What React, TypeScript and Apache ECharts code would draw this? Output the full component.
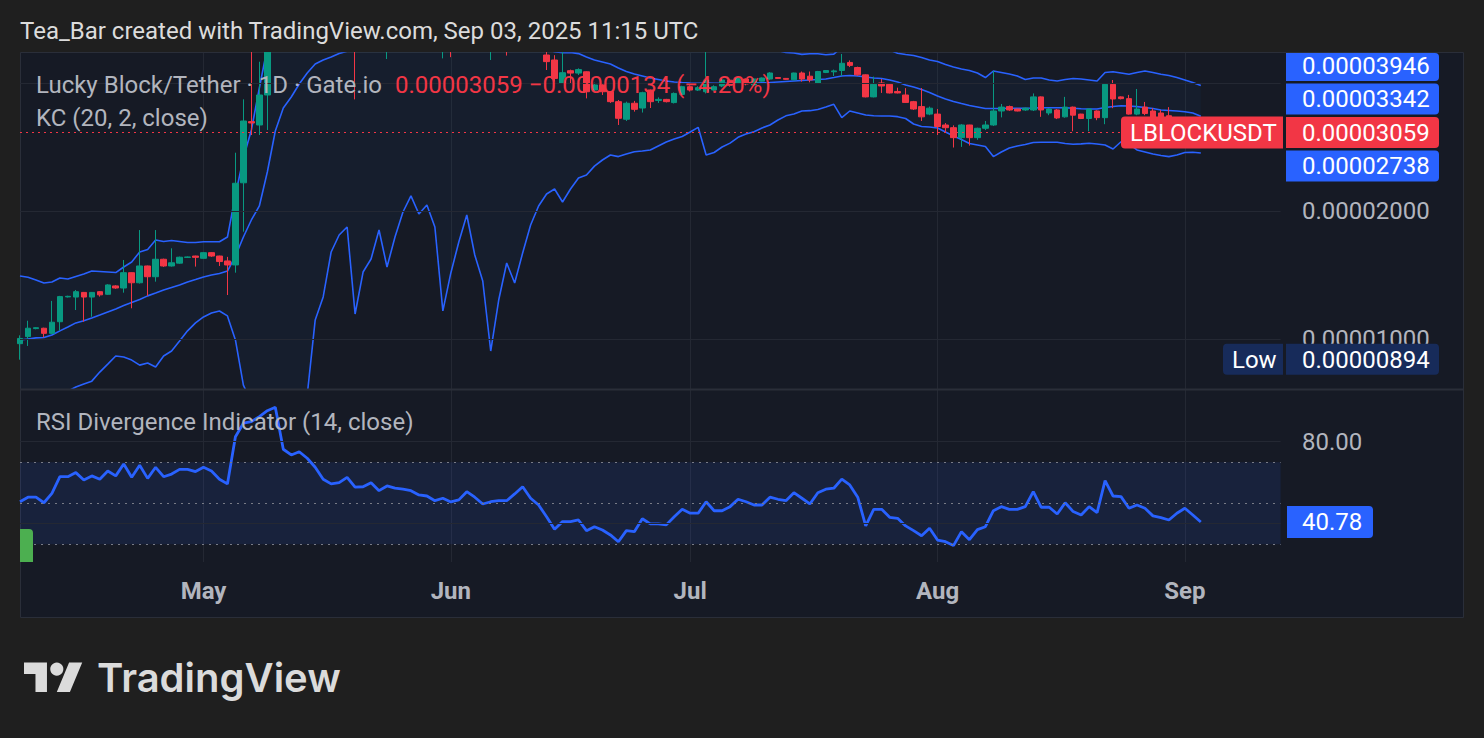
import React, { useEffect, useRef } from "react";
import * as echarts from "echarts";

// ---------------- DATA (prices in units of 1e-5 USDT) ----------------
const PRICE_UNIT = 1e-5;
const FIRST_DAY_UTC = Date.UTC(2025, 3, 8); // Apr 8, 2025 (first daily bar, partly cut at the left edge)
const CATEGORY_COUNT = 159; // daily slots up to the right edge of the pane
const MONTH_NAMES = ["Jan", "Feb", "Mar", "Apr", "May", "Jun", "Jul", "Aug", "Sep", "Oct", "Nov", "Dec"];

const candleOpen = [
  0.975, 1.013, 1.058, 1.060, 1.031, 1.098, 1.256, 1.255, 1.287, 1.255,
  1.292, 1.274, 1.333, 1.318, 1.432, 1.356, 1.485, 1.401, 1.540, 1.485,
  1.508, 1.556, 1.567, 1.548, 1.596, 1.567, 1.526, 1.493, 2.330, 3.245,
  3.186, 3.748, 5.600, 7.400, 5.900, 5.600, 6.000, 5.700, 5.300, 5.000,
  4.950, 5.100, 5.300, 4.950, 5.000, 5.150, 4.950, 5.050, 5.000, 4.980,
  4.950, 4.880, 4.860, 4.800, 4.840, 4.780, 4.820, 4.980, 4.900, 4.800,
  4.850, 4.880, 4.820, 4.880, 5.000, 4.850, 4.654, 4.530, 3.994, 4.275,
  4.220, 4.250, 3.851, 3.957, 3.815, 3.615, 3.287, 3.584, 3.493, 3.851,
  3.640, 3.660, 3.597, 3.760, 3.920, 3.850, 3.815, 3.851, 3.935, 4.060,
  4.000, 4.087, 3.957, 4.040, 4.087, 4.120, 4.100, 4.070, 4.222, 4.150,
  3.994, 4.235, 4.250, 4.280, 4.470, 4.350, 4.180, 3.710, 4.000, 3.970,
  3.820, 3.748, 3.615, 3.520, 3.380, 3.380, 3.186, 3.140, 2.975, 3.186,
  2.975, 3.130, 3.186, 3.437, 3.520, 3.474, 3.456, 3.456, 3.710, 3.400,
  3.456, 3.330, 3.510, 3.380, 3.300, 3.437, 3.315, 3.970, 3.710, 3.675,
  3.380, 3.510, 3.437, 3.400, 3.350, 3.250, 3.220, 3.180, 3.193,
];
const candleClose = [
  1.003, 1.060, 1.063, 1.031, 1.095, 1.258, 1.260, 1.292, 1.255, 1.287,
  1.270, 1.340, 1.318, 1.432, 1.356, 1.485, 1.401, 1.540, 1.485, 1.511,
  1.557, 1.559, 1.556, 1.596, 1.567, 1.521, 1.493, 2.324, 3.256, 3.221,
  3.748, 5.600, 7.400, 5.900, 5.600, 6.000, 5.700, 5.300, 5.000, 4.950,
  5.100, 5.300, 4.950, 5.000, 5.150, 4.950, 5.050, 5.000, 4.980, 4.950,
  4.880, 4.860, 4.800, 4.840, 4.780, 4.820, 4.980, 4.900, 4.800, 4.850,
  4.880, 4.820, 4.880, 5.000, 4.850, 4.750, 4.490, 4.100, 4.229, 4.220,
  4.300, 3.815, 3.957, 3.815, 3.615, 3.304, 3.584, 3.468, 3.795, 3.615,
  3.660, 3.615, 3.780, 3.920, 3.850, 3.900, 4.065, 3.920, 4.065, 3.950,
  4.109, 3.978, 4.087, 4.109, 4.222, 4.100, 4.080, 4.222, 4.087, 4.065,
  4.256, 4.278, 4.270, 4.450, 4.400, 4.180, 3.710, 3.970, 3.935, 3.790,
  3.790, 3.600, 3.474, 3.330, 3.490, 3.160, 3.140, 2.975, 3.186, 2.975,
  3.130, 3.186, 3.437, 3.510, 3.456, 3.437, 3.490, 3.710, 3.456, 3.474,
  3.310, 3.510, 3.360, 3.300, 3.474, 3.315, 3.970, 3.668, 3.675, 3.380,
  3.474, 3.390, 3.310, 3.270, 3.250, 3.220, 3.180, 3.193, 3.059,
];
const candleLow = [
  0.894, 0.963, 1.054, 1.009, 1.025, 1.046, 1.252, 1.170, 1.098, 1.128,
  1.258, 1.270, 1.312, 1.285, 1.181, 1.350, 1.263, 1.364, 1.478, 1.480,
  1.503, 1.552, 1.480, 1.545, 1.560, 1.485, 1.269, 1.432, 1.788, 3.018,
  3.018, 3.101, 5.400, 5.500, 5.200, 5.300, 5.400, 5.000, 4.850, 4.800,
  4.850, 4.950, 3.660, 4.800, 4.900, 4.850, 4.554, 4.850, 4.800, 4.780,
  4.780, 4.770, 4.740, 4.570, 4.600, 4.730, 4.760, 4.800, 4.740, 4.530,
  4.780, 4.640, 4.740, 4.800, 4.760, 4.720, 4.291, 4.030, 3.980, 3.994,
  4.177, 3.680, 3.840, 3.748, 3.590, 3.186, 3.256, 3.425, 3.408, 3.493,
  3.590, 3.600, 3.580, 3.740, 3.820, 3.830, 3.780, 3.830, 3.910, 3.920,
  3.980, 3.950, 3.940, 4.030, 4.070, 4.090, 4.070, 4.060, 4.030, 4.014,
  3.980, 4.220, 4.154, 4.154, 4.360, 4.160, 3.700, 3.700, 3.790, 3.780,
  3.780, 3.590, 3.456, 3.256, 3.360, 3.018, 3.070, 2.820, 2.830, 2.850,
  2.940, 3.100, 3.170, 3.320, 3.440, 3.430, 3.440, 3.437, 3.330, 3.360,
  3.290, 3.315, 3.080, 3.290, 3.080, 3.270, 3.200, 3.490, 3.660, 3.370,
  3.360, 3.360, 3.260, 3.220, 3.200, 3.150, 3.120, 3.100, 3.000,
];
const candleHigh = [
  1.020, 1.104, 1.066, 1.063, 1.229, 1.263, 1.264, 1.304, 1.290, 1.290,
  1.296, 1.345, 1.338, 1.534, 1.435, 1.804, 1.488, 1.804, 1.545, 1.634,
  1.562, 1.563, 1.570, 1.600, 1.600, 1.570, 1.560, 2.742, 3.661, 5.300,
  4.488, 6.000, 8.200, 7.900, 6.300, 6.400, 6.300, 5.900, 5.500, 5.300,
  5.400, 5.600, 5.400, 5.200, 5.300, 5.200, 5.200, 5.200, 5.150, 5.100,
  5.050, 5.000, 4.950, 4.950, 4.920, 4.950, 5.100, 5.050, 4.950, 4.950,
  5.000, 4.950, 5.000, 5.100, 5.050, 4.900, 4.850, 4.650, 4.900, 4.300,
  4.330, 4.260, 4.006, 3.970, 3.830, 3.648, 3.615, 3.630, 3.815, 3.860,
  3.700, 3.670, 3.800, 3.940, 3.950, 3.930, 4.800, 3.950, 4.080, 4.080,
  4.130, 4.100, 4.100, 4.120, 4.240, 4.130, 4.110, 4.230, 4.256, 4.256,
  4.270, 4.290, 4.300, 4.680, 4.520, 4.370, 4.190, 4.140, 4.087, 3.990,
  3.900, 3.890, 3.630, 3.890, 3.520, 3.474, 3.220, 3.180, 3.200, 3.190,
  3.140, 3.256, 4.268, 3.570, 3.540, 3.480, 3.500, 3.780, 3.720, 3.490,
  3.474, 3.710, 3.520, 3.385, 3.480, 3.450, 3.990, 4.065, 3.720, 3.750,
  3.872, 3.610, 3.490, 3.456, 3.510, 3.300, 3.270, 3.260, 3.220,
];

const kcUpper = [
  1.407, 1.397, 1.377, 1.354, 1.362, 1.391, 1.384, 1.403, 1.422, 1.445,
  1.441, 1.437, 1.433, 1.477, 1.517, 1.602, 1.623, 1.709, 1.695, 1.704,
  1.695, 1.686, 1.686, 1.693, 1.693, 1.693, 1.737, 2.181, 2.665, 3.101,
  3.893, 4.850, 6.000, 6.600, 7.000, 7.350, 7.706, 7.757, 7.804, 7.606,
  7.624, 7.666, 8.415, 8.163, 8.118, 7.896, 8.263, 8.043, 7.811, 7.650,
  7.852, 7.754, 7.966, 8.616, 8.330, 8.049, 7.803, 8.184, 8.371, 8.783,
  8.485, 8.191, 8.346, 8.127, 7.846, 7.605, 7.387, 7.227, 7.320, 7.187,
  6.989, 6.778, 6.510, 6.326, 6.158, 5.991, 5.789, 5.641, 5.540, 5.435,
  5.308, 5.180, 5.089, 5.026, 4.933, 4.842, 5.292, 5.243, 5.160, 5.100,
  5.008, 4.965, 4.928, 4.877, 4.834, 4.768, 4.716, 4.704, 4.671, 4.687,
  4.687, 4.661, 4.677, 4.850, 4.890, 4.900, 4.900, 4.860, 4.840, 4.780,
  4.700, 4.666, 4.642, 4.590, 4.530, 4.493, 4.420, 4.362, 4.315, 4.280,
  4.222, 4.120, 4.268, 4.234, 4.199, 4.154, 4.076, 4.109, 4.109, 4.065,
  4.043, 4.076, 4.098, 4.087, 4.065, 4.043, 4.234, 4.252, 4.222, 4.193,
  4.234, 4.268, 4.234, 4.193, 4.165, 4.120, 4.065, 4.010, 3.946,
];
const kcMiddle = [
  0.995, 1.000, 1.006, 1.008, 1.022, 1.045, 1.067, 1.091, 1.104, 1.121,
  1.139, 1.158, 1.177, 1.199, 1.218, 1.239, 1.263, 1.283, 1.304, 1.322,
  1.340, 1.362, 1.380, 1.399, 1.414, 1.426, 1.445, 1.567, 1.737, 1.905,
  2.055, 2.470, 3.084, 3.493, 3.708, 3.978, 4.222, 4.433, 4.530, 4.604,
  4.690, 4.750, 4.780, 4.800, 4.830, 4.850, 4.870, 4.890, 4.900, 4.910,
  4.910, 4.910, 4.900, 4.890, 4.880, 4.870, 4.880, 4.880, 4.870, 4.860,
  4.860, 4.850, 4.850, 4.860, 4.850, 4.830, 4.790, 4.740, 4.710, 4.720,
  4.690, 4.604, 4.530, 4.481, 4.433, 4.338, 4.256, 4.199, 4.154, 4.109,
  4.076, 4.043, 4.021, 4.010, 4.000, 3.994, 4.000, 3.994, 3.994, 3.994,
  3.994, 4.000, 4.000, 4.006, 4.010, 4.021, 4.032, 4.043, 4.054, 4.065,
  4.076, 4.087, 4.120, 4.154, 4.165, 4.154, 4.132, 4.109, 4.098, 4.065,
  4.021, 3.957, 3.914, 3.861, 3.799, 3.728, 3.668, 3.619, 3.579, 3.541,
  3.513, 3.484, 3.484, 3.484, 3.488, 3.488, 3.488, 3.493, 3.499, 3.499,
  3.499, 3.499, 3.488, 3.480, 3.474, 3.474, 3.503, 3.522, 3.537, 3.532,
  3.519, 3.503, 3.484, 3.456, 3.447, 3.437, 3.424, 3.400, 3.342,
];
const kcLower = [
  0.738, 0.734, 0.730, 0.726, 0.730, 0.738, 0.754, 0.771, 0.784, 0.796,
  0.836, 0.873, 0.912, 0.907, 0.892, 0.868, 0.878, 0.859, 0.912, 0.937,
  0.989, 1.045, 1.091, 1.127, 1.151, 1.164, 1.133, 0.995, 0.779, 0.710,
  0.220, 0.090, 0.170, 0.390, 0.420, 0.610, 0.738, 1.109, 1.256, 1.602,
  1.756, 1.834, 1.145, 1.437, 1.542, 1.804, 1.477, 1.737, 1.989, 2.170,
  1.968, 2.066, 1.834, 1.164, 1.430, 1.691, 1.957, 1.576, 1.369, 0.937,
  1.235, 1.509, 1.354, 1.593, 1.854, 2.055, 2.193, 2.253, 2.100, 2.253,
  2.391, 2.430, 2.550, 2.636, 2.708, 2.685, 2.723, 2.757, 2.768, 2.783,
  2.844, 2.906, 2.953, 2.994, 3.067, 3.146, 2.708, 2.745, 2.828, 2.888,
  2.980, 3.035, 3.072, 3.135, 3.186, 3.274, 3.348, 3.382, 3.437, 3.443,
  3.465, 3.513, 3.563, 3.316, 3.437, 3.400, 3.363, 3.350, 3.345, 3.345,
  3.333, 3.300, 3.203, 3.160, 3.152, 3.135, 3.067, 3.002, 2.945, 2.882,
  2.859, 2.836, 2.685, 2.753, 2.813, 2.844, 2.867, 2.898, 2.902, 2.902,
  2.902, 2.882, 2.870, 2.877, 2.885, 2.874, 2.859, 2.798, 2.910, 2.874,
  2.783, 2.753, 2.723, 2.701, 2.685, 2.708, 2.745, 2.748, 2.738,
];

const rsiValues = [
  50.7, 52.9, 52.9, 50.2, 54.8, 62.9, 62.9, 64.9, 61.3, 63.3,
  61.7, 65.7, 63.3, 69.1, 62.6, 68.5, 62.1, 67.5, 62.9, 64.2,
  66.5, 66.5, 65.4, 67.5, 65.7, 61.7, 59.4, 82.4, 89.0, 89.8,
  92.2, 95.1, 96.8, 76.3, 73.5, 75.1, 71.9, 67.5, 61.7, 59.4,
  60.0, 62.6, 57.8, 58.0, 60.0, 56.1, 58.4, 57.3, 56.8, 56.1,
  54.0, 53.5, 51.2, 52.4, 50.6, 51.6, 55.6, 52.9, 49.6, 50.7,
  51.2, 51.2, 54.5, 58.0, 52.4, 49.1, 43.4, 37.3, 41.0, 41.0,
  41.8, 36.6, 38.5, 36.9, 34.5, 31.2, 36.6, 36.1, 42.4, 39.9,
  39.9, 39.4, 43.4, 47.0, 45.1, 45.1, 50.7, 46.3, 46.3, 48.3,
  51.9, 50.7, 49.1, 49.1, 52.9, 51.9, 51.2, 55.1, 52.4, 49.6,
  55.1, 56.8, 57.3, 61.7, 58.9, 52.9, 38.9, 47.0, 47.0, 43.1,
  42.6, 38.9, 36.6, 34.1, 37.8, 32.0, 31.2, 29.3, 36.1, 32.2,
  37.1, 38.5, 46.3, 48.3, 47.0, 47.0, 48.3, 55.6, 48.0, 48.0,
  44.7, 50.2, 45.9, 44.2, 48.3, 45.4, 61.0, 53.5, 53.2, 47.5,
  49.1, 47.5, 43.8, 42.9, 41.8, 45.1, 47.5, 44.2, 40.78,
];

const priceGridLevels = [4, 2, 1];
const priceAxisTicks = [2, 1];
const lastPrice = 3.059;
const priceChange = -0.134;
const priceChangePct = -4.2;
const lowestPrice = 0.894;
const rsiGridLevels = [80, 40];
const rsiAxisTicks = [80];
const rsiLevels = [70, 50, 30];
const lastRsi = 40.78;

// ---------------- STYLE ----------------
const PAGE_BG = "#1f1f1f";
const PANE_BG = "#161a25";
const PANE_BORDER = "#2a2e39";
const GRID_LINE = "#242833";
const TEXT_GRAY = "#b2b5be";
const BLUE = "#2962ff";
const RED = "#f23645";
const TEAL = "#089981";
const LOW_BG = "#172b5a";
const FONT = "Roboto, 'Noto Sans', sans-serif";
const FS = 24;

const PANE_LEFT = 20;
const PANE_TOP = 53;
const PLOT_WIDTH = 1260.6;
const MAIN_HEIGHT = 336;
const RSI_TOP = 390;
const RSI_HEIGHT = 172;

const TV_LOGO_PATH = "M14 22H7V11H0V4h14v18zM28 22h-8l7.5-18h8L28 22z";
echarts.graphic.registerShape("tvLogo", echarts.graphic.extendPath(TV_LOGO_PATH, {}) as any);

const categories = Array.from({ length: CATEGORY_COUNT }, (_, i) =>
  new Date(FIRST_DAY_UTC + i * 86400000).toISOString().slice(0, 10)
);
const isMonthStart = (_i: number, v: string) => typeof v === "string" && v.endsWith("-01");
const fmtPrice = (v: number) => (v * PRICE_UNIT).toFixed(8);

function buildOption() {
  const candles = candleOpen.map((o, i) => [o, candleClose[i], candleLow[i], candleHigh[i]]);
  const bandWidth = kcUpper.map((u, i) => u - kcLower[i]);
  const lineSeries = (name: string, data: number[]) => ({
    name,
    type: "line",
    data,
    showSymbol: false,
    symbol: "none",
    silent: true,
    z: 2,
    lineStyle: { color: BLUE, width: 1.6 },
  });
  const noLabel = { show: false };
  return {
    animation: false,
    backgroundColor: "transparent",
    grid: [
      { left: PANE_LEFT, top: PANE_TOP, width: PLOT_WIDTH, height: MAIN_HEIGHT },
      { left: PANE_LEFT, top: RSI_TOP, width: PLOT_WIDTH, height: RSI_HEIGHT },
    ],
    xAxis: [
      {
        type: "category",
        gridIndex: 0,
        data: categories,
        boundaryGap: false,
        axisLine: { show: false },
        axisTick: { show: false },
        axisLabel: { show: false },
        splitLine: { show: true, interval: isMonthStart, lineStyle: { color: GRID_LINE, width: 1 } },
      },
      {
        type: "category",
        gridIndex: 1,
        data: categories,
        boundaryGap: false,
        axisLine: { show: false },
        axisTick: { show: false },
        axisLabel: {
          show: true,
          interval: isMonthStart,
          formatter: (v: string) => MONTH_NAMES[Number(v.slice(5, 7)) - 1],
          color: TEXT_GRAY,
          fontSize: FS,
          fontWeight: "bold",
          fontFamily: FONT,
          margin: 17,
        },
        splitLine: { show: true, interval: isMonthStart, lineStyle: { color: GRID_LINE, width: 1 } },
      },
    ],
    yAxis: [
      {
        type: "log",
        logBase: 10,
        gridIndex: 0,
        min: 0.7628,
        max: 4.705,
        axisLine: { show: false },
        axisTick: { show: false },
        axisLabel: { show: false },
        splitLine: { show: false },
      },
      {
        type: "value",
        gridIndex: 1,
        min: 21.3,
        max: 105.2,
        axisLine: { show: false },
        axisTick: { show: false },
        axisLabel: { show: false },
        splitLine: { show: false },
      },
    ],
    series: [
      {
        name: "kcBase",
        type: "line",
        stack: "kc",
        data: kcLower,
        symbol: "none",
        silent: true,
        z: 1,
        lineStyle: { opacity: 0 },
        markLine: {
          silent: true,
          symbol: ["none", "none"],
          label: noLabel,
          animation: false,
          lineStyle: { color: GRID_LINE, type: "solid", width: 1 },
          data: priceGridLevels.map((v) => ({ yAxis: v })),
        },
      },
      {
        name: "kcBand",
        type: "line",
        stack: "kc",
        data: bandWidth,
        symbol: "none",
        silent: true,
        z: 1,
        lineStyle: { opacity: 0 },
        areaStyle: { color: "rgba(33,150,243,0.06)" },
      },
      lineSeries("KC upper", kcUpper),
      lineSeries("KC basis", kcMiddle),
      lineSeries("KC lower", kcLower),
      {
        name: "LBLOCKUSDT",
        type: "candlestick",
        data: candles,
        barWidth: 6,
        z: 3,
        clip: true,
        itemStyle: {
          color: TEAL,
          color0: RED,
          borderColor: TEAL,
          borderColor0: RED,
          borderWidth: 1,
        },
        markLine: {
          silent: true,
          symbol: ["none", "none"],
          label: noLabel,
          animation: false,
          lineStyle: { color: RED, type: [2, 4], width: 1 },
          data: [{ yAxis: lastPrice }],
        },
      },
      {
        name: "rsiFrame",
        type: "line",
        xAxisIndex: 1,
        yAxisIndex: 1,
        data: rsiValues,
        symbol: "none",
        silent: true,
        z: 1,
        lineStyle: { opacity: 0 },
        markArea: {
          silent: true,
          itemStyle: { color: "rgba(41,98,255,0.11)" },
          data: [[{ yAxis: rsiLevels[2] }, { yAxis: rsiLevels[0] }]],
        },
        markLine: {
          silent: true,
          symbol: ["none", "none"],
          label: noLabel,
          animation: false,
          data: [
            ...rsiGridLevels.map((v) => ({ yAxis: v, lineStyle: { color: GRID_LINE, type: "solid", width: 1 } })),
            ...rsiLevels.map((v) => ({ yAxis: v, lineStyle: { color: "#787b86", type: [2, 5], width: 1 } })),
          ],
        },
      },
      {
        name: "RSI",
        type: "line",
        xAxisIndex: 1,
        yAxisIndex: 1,
        data: rsiValues,
        symbol: "none",
        silent: true,
        z: 3,
        lineStyle: { color: BLUE, width: 2.8 },
      },
    ],
  };
}

function text(x: number, y: number, str: string, fill: string, size = FS, weight = "normal", family = FONT, z = 110) {
  return {
    type: "text",
    x,
    y,
    z,
    silent: true,
    style: {
      text: str,
      fill,
      font: `${weight} ${size}px ${family}`,
      align: "left",
      verticalAlign: "middle",
      textAlign: "left",
      textVerticalAlign: "middle",
    },
  };
}
function box(x: number, y: number, w: number, h: number, fill: string, r: number[] | number, z = 105) {
  return { type: "rect", z, silent: true, shape: { x, y, width: w, height: h, r }, style: { fill } };
}

function buildGraphics(chart: echarts.ECharts) {
  const py = (v: number) => chart.convertToPixel({ yAxisIndex: 0 }, v) as number;
  const ry = (v: number) => chart.convertToPixel({ yAxisIndex: 1 }, v) as number;
  const AXIS_TEXT_X = 1302;
  const TAG_X = 1286;
  const TAG_W = 153;
  const TAG_H = 31;
  const STEP = 33.5;

  // price-scale tags: last price fixed, others pushed away to avoid overlap
  const yLast = py(lastPrice);
  const yMid = Math.min(py(kcMiddle[kcMiddle.length - 1]), yLast - STEP);
  const yUp = Math.min(py(kcUpper[kcUpper.length - 1]), yMid - STEP);
  const yLow = Math.max(py(kcLower[kcLower.length - 1]), yLast + STEP);
  const tag = (yc: number, fill: string, label: string) => {
    const top = Math.max(PANE_TOP, yc - TAG_H / 2);
    return [
      box(TAG_X, top, TAG_W, yc + TAG_H / 2 - top, fill, [0, 4, 4, 0]),
      text(AXIS_TEXT_X, yc, label, "#ffffff"),
    ];
  };
  const yLowest = py(lowestPrice);
  const yR80 = ry(rsiAxisTicks[0]);
  const yRsi = ry(lastRsi);

  const changeStr = `\u2212${Math.abs(priceChange * PRICE_UNIT).toFixed(8)} (\u2212${Math.abs(priceChangePct).toFixed(2)}%)`;

  return [
    // panel background
    { type: "rect", z: -10, silent: true, shape: { x: 20.5, y: 52.5, width: 1443, height: 565 }, style: { fill: PANE_BG, stroke: PANE_BORDER, lineWidth: 1 } },
    // mask above the pane (candles that run off the top of the price pane)
    { type: "rect", z: 100, silent: true, shape: { x: 0, y: 0, width: 1484, height: 52 }, style: { fill: PAGE_BG } },
    { type: "line", z: 50, silent: true, shape: { x1: 20, y1: 389.5, x2: 1464, y2: 389.5 }, style: { stroke: PANE_BORDER, lineWidth: 2 } },

    // header
    text(20, 31, "Tea_Bar created with TradingView.com, Sep 03, 2025 11:15 UTC", "#dcdcdc"),

    // legends
    text(36, 85, "Lucky Block/Tether \u00b7 1D \u00b7 Gate.io", TEXT_GRAY),
    text(395, 85, `${fmtPrice(lastPrice)} ${changeStr}`, RED),
    text(36, 118, "KC (20, 2, close)", TEXT_GRAY),
    text(36, 422, "RSI Divergence Indicator (14, close)", TEXT_GRAY),

    // price axis
    ...priceAxisTicks.map((v) => text(AXIS_TEXT_X, py(v), fmtPrice(v), TEXT_GRAY, FS, "normal", FONT, 102)),
    ...tag(yUp, BLUE, fmtPrice(kcUpper[kcUpper.length - 1])),
    ...tag(yMid, BLUE, fmtPrice(kcMiddle[kcMiddle.length - 1])),
    ...tag(yLast, RED, fmtPrice(lastPrice)),
    ...tag(yLow, BLUE, fmtPrice(kcLower[kcLower.length - 1])),
    box(1121, yLast - 16, 162, 32, RED, [4, 0, 0, 4]),
    text(1130, yLast, "LBLOCKUSDT", "#ffffff"),
    box(1223, yLowest - 16, 60, 31, LOW_BG, [4, 0, 0, 4]),
    text(1232, yLowest, "Low", "#ffffff"),
    box(TAG_X, yLowest - 16, TAG_W, 31, LOW_BG, [0, 4, 4, 0]),
    text(AXIS_TEXT_X, yLowest, fmtPrice(lowestPrice), "#ffffff"),

    // rsi axis
    text(AXIS_TEXT_X, yR80, rsiAxisTicks[0].toFixed(2), TEXT_GRAY),
    box(1287, yRsi - 16, 86, 32, BLUE, [0, 4, 4, 0]),
    text(AXIS_TEXT_X, yRsi, lastRsi.toFixed(2), "#ffffff"),
    // divergence tag clipped at the left edge
    box(20, 529, 13, 33, "#4caf50", [0, 4, 0, 0], 60),

    // TradingView logo
    { type: "tvLogo", x: 24, y: 656, scaleX: 1.64, scaleY: 1.64, z: 110, silent: true, style: { fill: "#dbdbdb" } },
    { type: "circle", z: 110, silent: true, shape: { cx: 24 + 20 * 1.64, cy: 656 + 8 * 1.64, r: 4 * 1.64 }, style: { fill: "#dbdbdb" } },
    text(97, 677.5, "TradingView", "#dbdbdb", 40, "600", "Inter, Roboto, sans-serif"),
  ];
}

export default function App() {
  const ref = useRef<HTMLDivElement>(null);
  useEffect(() => {
    if (!ref.current) return;
    const chart = echarts.init(ref.current, null, { renderer: "svg", width: 1484, height: 738 });
    chart.setOption(buildOption() as any);
    chart.setOption({ graphic: buildGraphics(chart) } as any);
    return () => chart.dispose();
  }, []);
  return (
    <div
      ref={ref}
      style={{ position: "fixed", left: 0, top: 0, width: 1484, height: 738, background: PAGE_BG }}
    />
  );
}
